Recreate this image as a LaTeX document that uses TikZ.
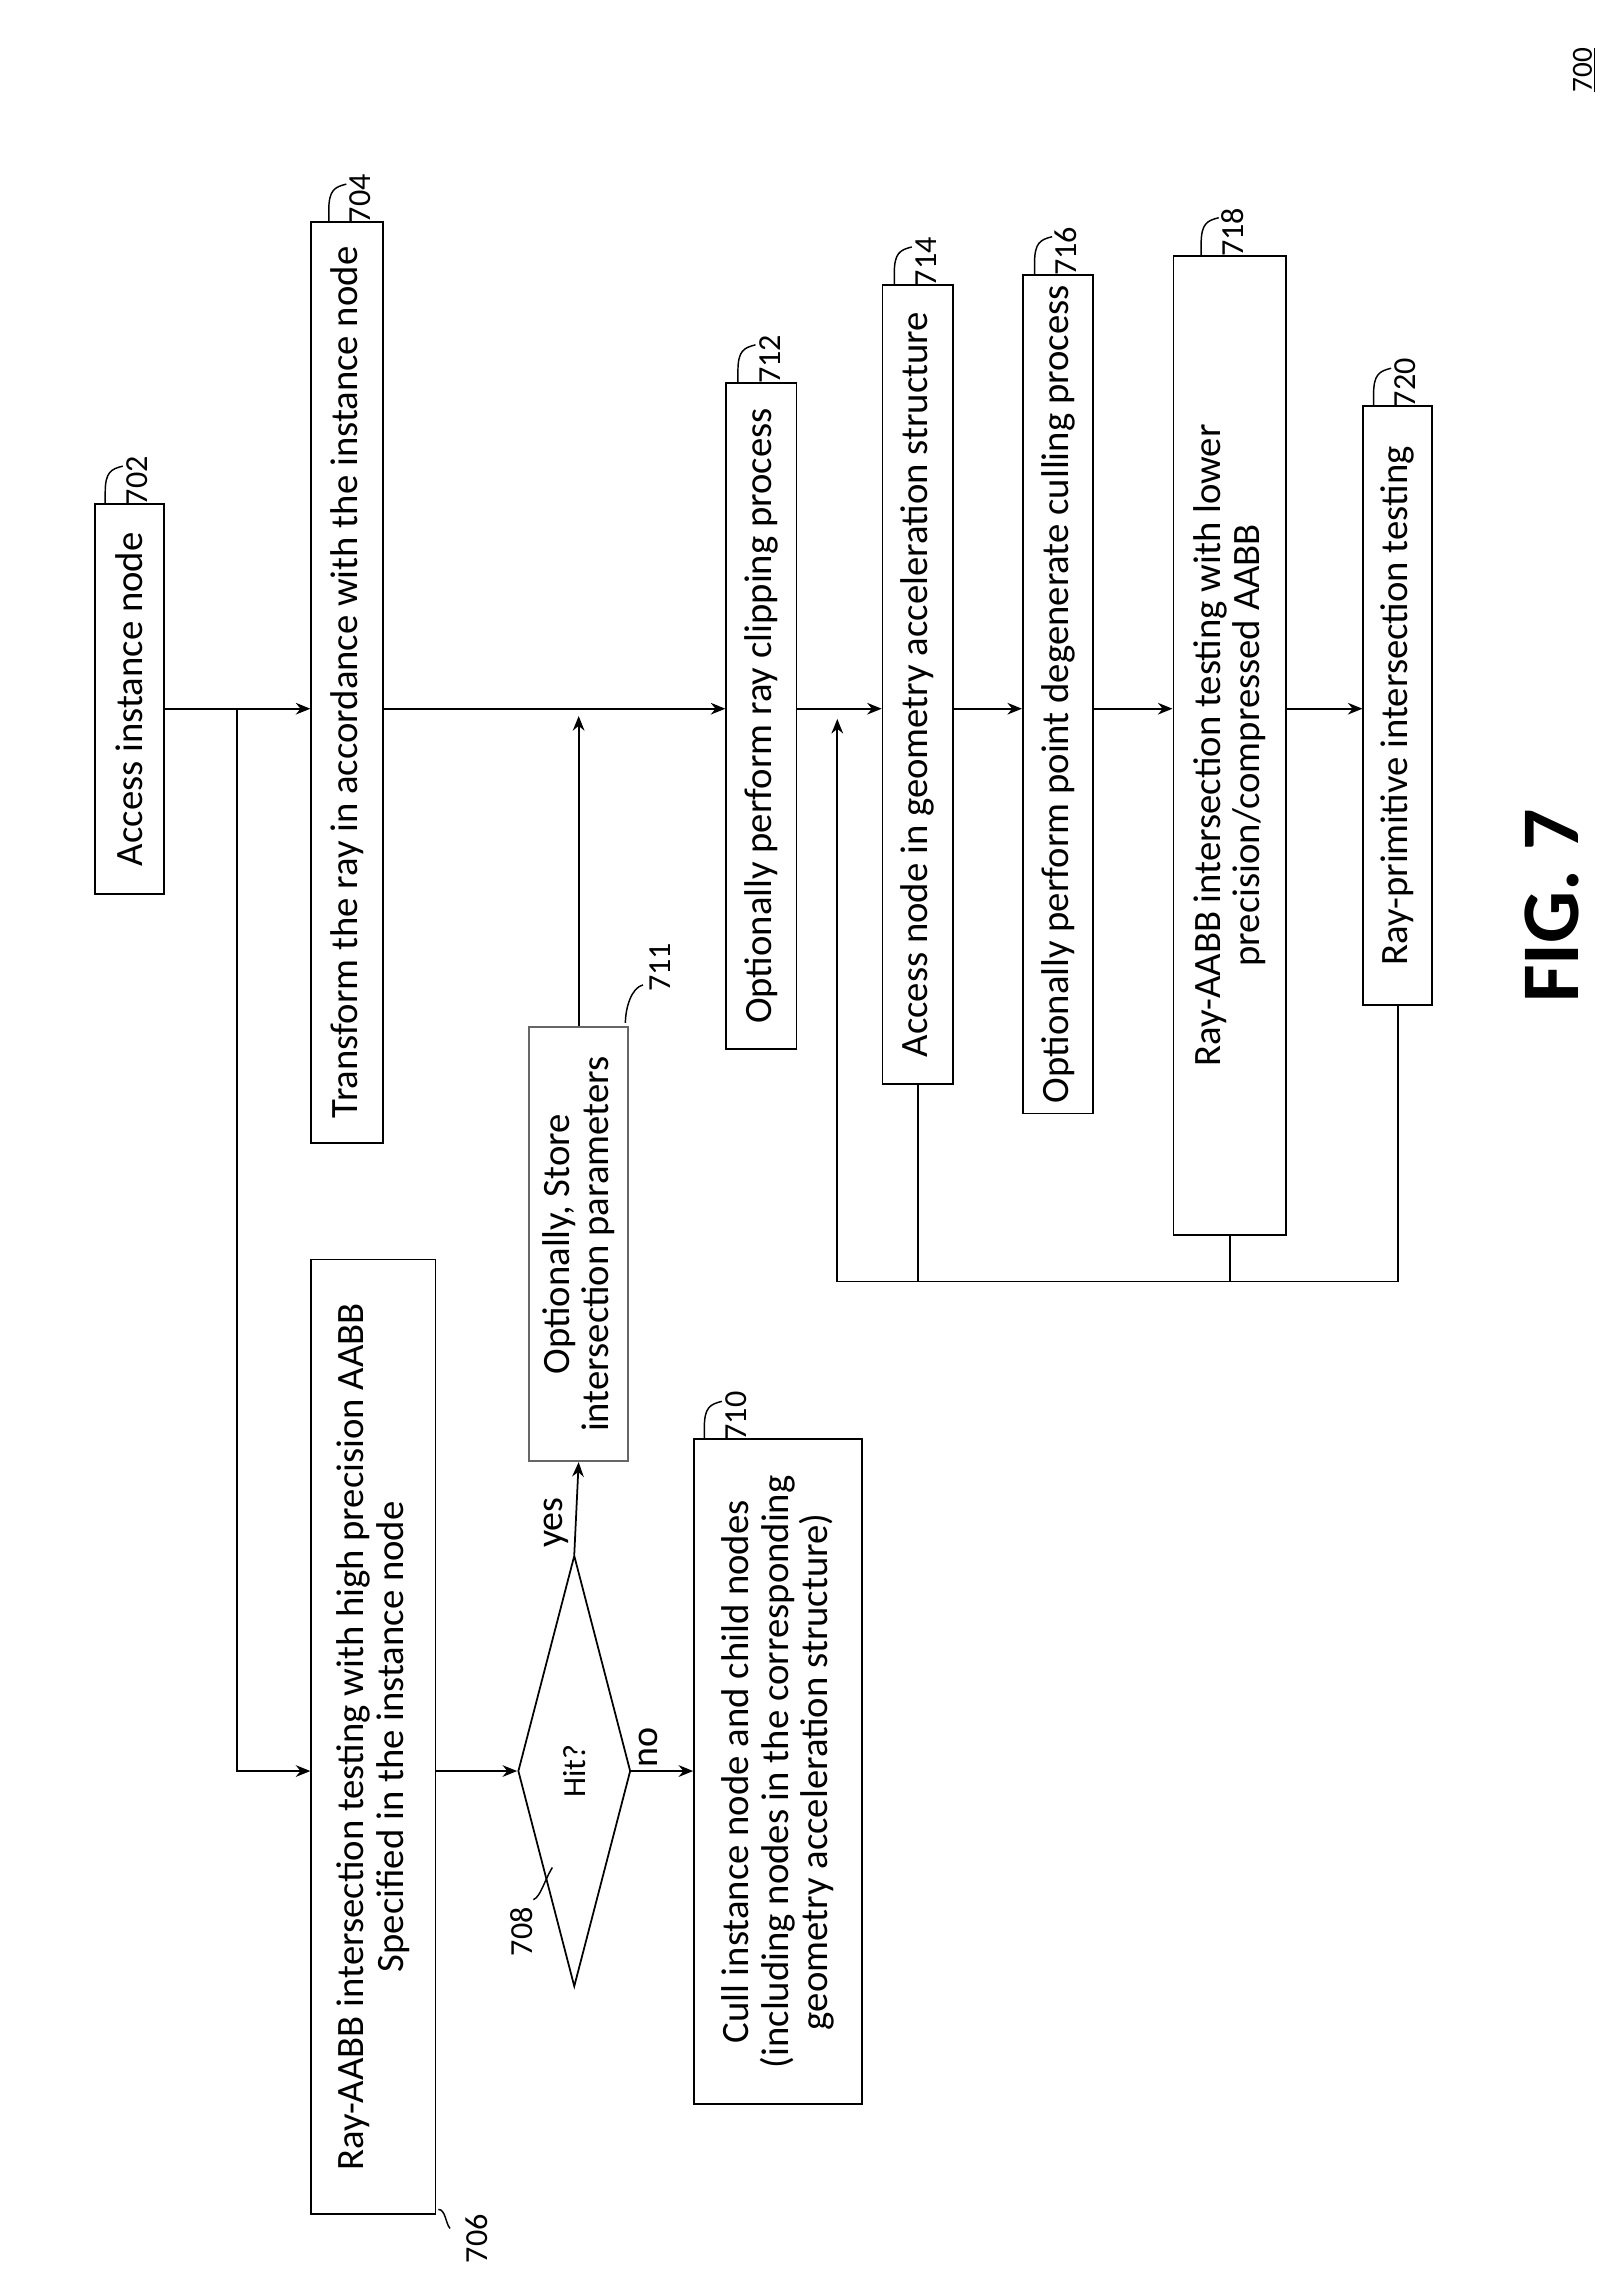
\documentclass[tikz,border=0pt]{standalone}
\usepackage{fontspec}
\setmainfont{Carlito}
\usetikzlibrary{shapes.geometric,arrows.meta}
\begin{document}
\begin{tikzpicture}[x=1pt,y=-1pt,
 box/.style={draw,line width=1.2pt,rotate=90,inner sep=0pt,align=center,font=\fontsize{26.5}{27}\selectfont},
 arr/.style={line width=1.2pt,-{Stealth[length=10pt,width=8pt]}},
 ln/.style={line width=1.2pt},
 lead/.style={line width=1pt},
 num/.style={rotate=90,font=\fontsize{22}{22}\selectfont,inner sep=1pt}]
\useasboundingbox (0,0) rectangle (1100,1561);
\node[rotate=90,font=\fontsize{20}{20}\selectfont] (n700) at (1084,48) {\underline{700}};
\node[rotate=90,font=\bfseries\fontsize{56}{56}\selectfont] (fig) at (1062,620) {FIG. 7};
\coordinate (M) at (0,485);
\node[box,minimum width=267,minimum height=47] (b702) at (88.5,478.5) {Access instance node};
\node[box,minimum width=630,minimum height=49] (b704) at (237.5,467) {Transform the ray in accordance with the instance node};
\node[box,minimum width=653,minimum height=85] (b706) at (255.5,1188.5) {Ray-AABB intersection testing with high precision AABB\\Specified in the instance node};
\node[draw,line width=1.2pt,shape=diamond,rotate=90,inner sep=0pt,minimum width=295,minimum height=77,font=\fontsize{22}{22}\selectfont] (d708) at (393,1212) {Hit?};
\node[box,draw=black!60,minimum width=297,minimum height=68] (b711) at (396,851.5) {Optionally, Store\\intersection parameters};
\node[box,minimum width=455,minimum height=115] (b710) at (532.5,1212.5) {Cull instance node and child nodes\\(including nodes in the corresponding\\geometry acceleration structure)};
\node[box,minimum width=456,minimum height=48] (b712) at (521,490) {Optionally perform ray clipping process};
\node[box,minimum width=547,minimum height=48] (b714) at (628,468.5) {Access node in geometry acceleration structure};
\node[box,minimum width=574,minimum height=48] (b716) at (724,475) {Optionally perform point degenerate culling process};
\node[box,minimum width=670,minimum height=77] (b718) at (841.5,510) {Ray-AABB intersection testing with lower\\precision/compressed AABB};
\node[box,minimum width=410,minimum height=47] (b720) at (956.5,483) {Ray-primitive intersection testing};
% connectors
\coordinate (J) at (162,485);
\draw[arr] (b702.south |- M) -- (b704.north |- M);
\draw[arr] (J) -- (J |- d708) -- (b706.north |- d708);
\draw[arr] (b704.south |- M) -- (b712.north |- M);
\draw[arr] (b711.east) -- (b711.east |- 0,490);
\draw[arr] (b706.south |- d708) -- (d708.north);
\draw[arr] (d708.east) -- (b711.west);
\draw[arr] (d708.south) -- (b710.north |- d708);
\draw[arr] (b712.south |- M) -- (b714.north |- M);
\draw[arr] (b714.south |- M) -- (b716.north |- M);
\draw[arr] (b716.south |- M) -- (b718.north |- M);
\draw[arr] (b718.south |- M) -- (b720.north |- M);
\coordinate (L) at (573,877);
\coordinate (F) at (573,492);
\draw[ln] (b714.west) -- (b714.west |- L);
\draw[ln] (b718.west) -- (b718.west |- L);
\draw[ln] (b720.west) -- (b720.west |- L) -- (L);
\draw[arr] (L) -- (F);
\node[rotate=90,font=\fontsize{26}{26}\selectfont] (yes) at (381,1042) {yes};
\node[rotate=90,font=\fontsize{26}{26}\selectfont] (no) at (444,1196) {no};
% reference labels
\foreach \s/\n/\t in {72/345/702,225/152/704,505/262/712,612/195/714,708/188/716,822/175/718,940/278/720,482/985/710}{
  \draw[lead] (\s,\n) -- (\s,\n-8) .. controls (\s,\n-22) and (\s+4,\n-24) .. (\s+12,\n-26);
  \node[num,anchor=south] (l\t) at (\s+30,\n-16) {\t};
}
\draw[lead] (428,700) .. controls (428,690) and (432,676) .. (440,674);
\node[num] (l711) at (452,662) {711};
\draw[lead] (300,1512) .. controls (305,1512) and (305,1522) .. (308,1525);
\node[num] (l706) at (326,1532) {706};
\draw[lead] (378,1278) .. controls (372,1288) and (370,1298) .. (365,1300);
\node[num] (l708) at (357,1322) {708};
\end{tikzpicture}
\end{document}
